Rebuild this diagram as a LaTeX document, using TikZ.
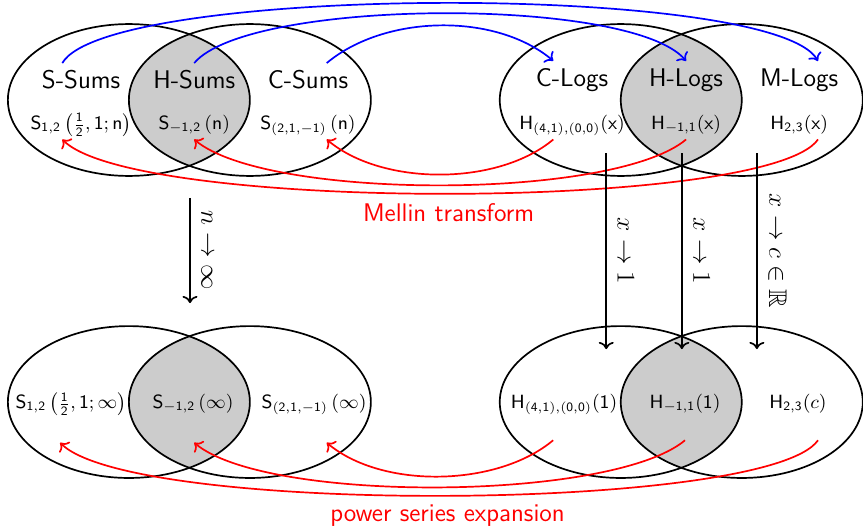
\documentclass[tikz,border=0pt]{standalone}
\usepackage{amsmath,amssymb}
\usepackage{tikz}
\usetikzlibrary{arrows.meta,positioning}

\begin{document}
\begin{tikzpicture}[
    venn/.style={draw=black, thick},
    overlap/.style={fill=gray!40},
    family/.style={font=\large\sffamily},
    formula/.style={font=\small, text height=6pt, text depth=1pt},
    forward/.style={->, thick, blue},
    backward/.style={->, thick, red},
    caption/.style={below, font=\large\sffamily, inner sep=4pt},
    limit/.style={->, thick},
    limitlabel/.style={anchor=south, rotate=-90, font=\large, inner sep=5pt}
]
    \useasboundingbox (0,0) rectangle (14.264,-8.760);

    \begin{scope}
        \clip (2.13,-1.653) ellipse [x radius=2, y radius=1.255];
        \fill[overlap] (4.13,-1.653) ellipse [x radius=2, y radius=1.255];
    \end{scope}
    \begin{scope}
        \clip (10.26,-1.653) ellipse [x radius=2, y radius=1.255];
        \fill[overlap] (12.26,-1.653) ellipse [x radius=2, y radius=1.255];
    \end{scope}
    \begin{scope}
        \clip (2.13,-6.645) ellipse [x radius=2, y radius=1.255];
        \fill[overlap] (4.13,-6.645) ellipse [x radius=2, y radius=1.255];
    \end{scope}
    \begin{scope}
        \clip (10.26,-6.645) ellipse [x radius=2, y radius=1.255];
        \fill[overlap] (12.26,-6.645) ellipse [x radius=2, y radius=1.255];
    \end{scope}

    \draw[venn] (2.13,-1.653) ellipse [x radius=2, y radius=1.255];
    \draw[venn] (4.13,-1.653) ellipse [x radius=2, y radius=1.255];
    \draw[venn] (10.26,-1.653) ellipse [x radius=2, y radius=1.255];
    \draw[venn] (12.26,-1.653) ellipse [x radius=2, y radius=1.255];
    \draw[venn] (2.13,-6.645) ellipse [x radius=2, y radius=1.255];
    \draw[venn] (4.13,-6.645) ellipse [x radius=2, y radius=1.255];
    \draw[venn] (10.26,-6.645) ellipse [x radius=2, y radius=1.255];
    \draw[venn] (12.26,-6.645) ellipse [x radius=2, y radius=1.255];

    \node[family] (ssums) at (1.34,-1.322) {S-Sums};
    \node[family] (hsums) at (3.21,-1.322) {H-Sums};
    \node[family] (csums) at (5.09,-1.322) {C-Sums};
    \node[family] (clogs) at (9.455,-1.322) {C-Logs};
    \node[family] (hlogs) at (11.34,-1.322) {H-Logs};
    \node[family] (mlogs) at (13.21,-1.322) {M-Logs};

    \node[formula] (sonehalf) at (1.34,-2.058)
        {$\mathsf{S_{1,2}\left(\frac{1}{2},1;n\right)}$};
    \node[formula] (sminus) at (3.21,-2.058) {$\mathsf{S_{-1,2}\,(n)}$};
    \node[formula] (stwoone) at (5.09,-2.058) {$\mathsf{S_{(2,1,-1)}\,(n)}$};
    \node[formula] (hforty) at (9.455,-2.058) {$\mathsf{H_{(4,1),(0,0)}(x)}$};
    \node[formula] (hminus) at (11.34,-2.058) {$\mathsf{H_{-1,1}(x)}$};
    \node[formula] (htwo) at (13.21,-2.058) {$\mathsf{H_{2,3}(x)}$};

    \node[formula] (sonehalfinf) at (1.174,-6.67)
        {$\mathsf{S_{1,2}\left(\frac{1}{2},1;\infty\right)}$};
    \node[formula] (sminusinf) at (3.19,-6.67) {$\mathsf{S_{-1,2}\,(\infty)}$};
    \node[formula] (stwooneinf) at (5.19,-6.67) {$\mathsf{S_{(2,1,-1)}\,(\infty)}$};
    \node[formula] (hfortyone) at (9.322,-6.67) {$\mathsf{H_{(4,1),(0,0)}(1)}$};
    \node[formula] (hminusone) at (11.322,-6.67) {$\mathsf{H_{-1,1}(1)}$};
    \node[formula] (htwoc) at (13.19,-6.67) {$\mathsf{H_{2,3}}(c)$};

    \draw[forward] ([xshift=-0.31cm]ssums.north)
        .. controls +(60:1.5) and +(120:1.5) .. ([xshift=0.31cm]mlogs.north);
    \draw[forward] (hsums.north)
        .. controls +(50:1.4) and +(130:1.4) .. (hlogs.north);
    \draw[forward] ([xshift=0.31cm]csums.north)
        .. controls +(40:1.25) and +(140:1.25) .. ([xshift=-0.31cm]clogs.north);

    \draw[backward] ([xshift=-0.31cm]hforty.south)
        .. controls +(220:1.2) and +(320:1.2) .. ([xshift=0.31cm]stwoone.south);
    \draw[backward] (hminus.south)
        .. controls +(220:1.57) and +(320:1.57) .. (sminus.south);
    \draw[backward] ([xshift=0.31cm]htwo.south)
        .. controls +(235:1.45) and +(315:1.7) .. node[caption] {Mellin transform}
        ([xshift=-0.31cm]sonehalf.south);

    \draw[backward] ([xshift=-0.18cm,yshift=-0.36cm]hfortyone.south)
        .. controls +(220:1.2) and +(320:1.2) .. ([xshift=0.21cm,yshift=-0.4cm]stwooneinf.south);
    \draw[backward] ([yshift=-0.36cm]hminusone.south)
        .. controls +(220:1.57) and +(320:1.57) .. ([xshift=0.02cm,yshift=-0.4cm]sminusinf.south);
    \draw[backward] ([xshift=0.33cm,yshift=-0.36cm]htwoc.south)
        .. controls +(235:1.45) and +(315:1.7) .. node[caption] {power series expansion}
        ([xshift=-0.18cm,yshift=-0.4cm]sonehalfinf.south);

    \coordinate (ntop) at (3.14,-3.27);
    \coordinate (nbot) at (3.14,-5.01);
    \coordinate (cxtop) at (10.02,-2.53);
    \coordinate (cxbot) at (10.02,-5.77);
    \coordinate (hxtop) at (11.27,-2.53);
    \coordinate (hxbot) at (11.27,-5.77);
    \coordinate (mxtop) at (12.51,-2.53);
    \coordinate (mxbot) at (12.51,-5.77);

    \draw[limit] (ntop) -- node[limitlabel] {$n\to\infty$} (nbot);
    \draw[limit] (cxtop) -- node[limitlabel] {$x\to1$} (cxbot);
    \draw[limit] (hxtop) -- node[limitlabel] {$x\to1$} (hxbot);
    \draw[limit] (mxtop) -- node[limitlabel] {$x\to c\in\mathbb{R}$} (mxbot);
\end{tikzpicture}
\end{document}
